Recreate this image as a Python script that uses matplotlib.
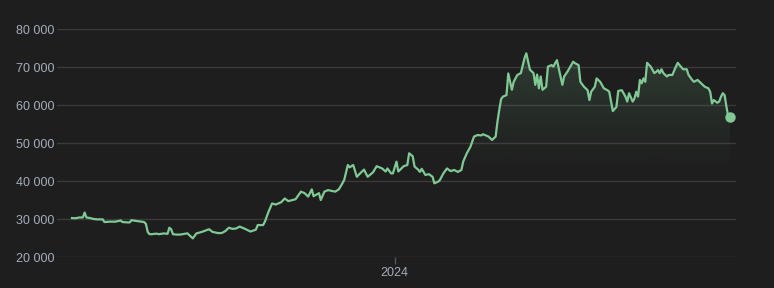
import numpy as np
import pandas as pd
import matplotlib
matplotlib.use("Agg")
import matplotlib.pyplot as plt
import matplotlib.dates as mdates
from matplotlib.patches import Polygon
from matplotlib.colors import to_rgb

# Price series (irregular sampling, USD)
dates = [
    "2023-07-06", "2023-07-08", "2023-07-10", "2023-07-12", "2023-07-13", "2023-07-14",
    "2023-07-16", "2023-07-18", "2023-07-20", "2023-07-23", "2023-07-24", "2023-07-27",
    "2023-07-30", "2023-08-02", "2023-08-03", "2023-08-06", "2023-08-07", "2023-08-08",
    "2023-08-09", "2023-08-12", "2023-08-15", "2023-08-16", "2023-08-17", "2023-08-18",
    "2023-08-19", "2023-08-22", "2023-08-23", "2023-08-26", "2023-08-28", "2023-08-29",
    "2023-08-30", "2023-08-31", "2023-09-02", "2023-09-04", "2023-09-08", "2023-09-11",
    "2023-09-13", "2023-09-16", "2023-09-20", "2023-09-22", "2023-09-25", "2023-09-27",
    "2023-09-29", "2023-10-01", "2023-10-03", "2023-10-05", "2023-10-07", "2023-10-10",
    "2023-10-13", "2023-10-16", "2023-10-17", "2023-10-20", "2023-10-21", "2023-10-23",
    "2023-10-25", "2023-10-27", "2023-10-30", "2023-11-01", "2023-11-03", "2023-11-07",
    "2023-11-10", "2023-11-12", "2023-11-14", "2023-11-16", "2023-11-17", "2023-11-20",
    "2023-11-21", "2023-11-23", "2023-11-25", "2023-11-27", "2023-11-29", "2023-12-01",
    "2023-12-03", "2023-12-04", "2023-12-06", "2023-12-07", "2023-12-09", "2023-12-11",
    "2023-12-13", "2023-12-15", "2023-12-16", "2023-12-17", "2023-12-20", "2023-12-22",
    "2023-12-25", "2023-12-27", "2023-12-28", "2023-12-30", "2023-12-31", "2024-01-02",
    "2024-01-03", "2024-01-06", "2024-01-08", "2024-01-09", "2024-01-11", "2024-01-12",
    "2024-01-14", "2024-01-15", "2024-01-16", "2024-01-18", "2024-01-20", "2024-01-22",
    "2024-01-23", "2024-01-25", "2024-01-26", "2024-01-28", "2024-01-30", "2024-02-01",
    "2024-02-03", "2024-02-05", "2024-02-07", "2024-02-08", "2024-02-10", "2024-02-12",
    "2024-02-14", "2024-02-16", "2024-02-18", "2024-02-19", "2024-02-22", "2024-02-24",
    "2024-02-26", "2024-02-27", "2024-02-28", "2024-02-29", "2024-03-01", "2024-03-03",
    "2024-03-04", "2024-03-06", "2024-03-07", "2024-03-09", "2024-03-11", "2024-03-13",
    "2024-03-14", "2024-03-15", "2024-03-16", "2024-03-18", "2024-03-19", "2024-03-20",
    "2024-03-21", "2024-03-22", "2024-03-23", "2024-03-25", "2024-03-26", "2024-03-28",
    "2024-03-29", "2024-03-30", "2024-03-31", "2024-04-01", "2024-04-03", "2024-04-04",
    "2024-04-06", "2024-04-09", "2024-04-10", "2024-04-12", "2024-04-13", "2024-04-15",
    "2024-04-17", "2024-04-18", "2024-04-19", "2024-04-21", "2024-04-22", "2024-04-24",
    "2024-04-26", "2024-04-28", "2024-04-29", "2024-05-01", "2024-05-03", "2024-05-04",
    "2024-05-06", "2024-05-08", "2024-05-09", "2024-05-10", "2024-05-12", "2024-05-13",
    "2024-05-14", "2024-05-15", "2024-05-16", "2024-05-17", "2024-05-18", "2024-05-19",
    "2024-05-20", "2024-05-22", "2024-05-24", "2024-05-25", "2024-05-26", "2024-05-27",
    "2024-05-28", "2024-05-29", "2024-05-31", "2024-06-01", "2024-06-03", "2024-06-05",
    "2024-06-06", "2024-06-07", "2024-06-09", "2024-06-11", "2024-06-12", "2024-06-14",
    "2024-06-15", "2024-06-17", "2024-06-19", "2024-06-21", "2024-06-23", "2024-06-24",
    "2024-06-25", "2024-06-26", "2024-06-28", "2024-06-29", "2024-06-30", "2024-07-01",
    "2024-07-02", "2024-07-03", "2024-07-04", "2024-07-05",
]
prices = [
    30250, 30200, 30400, 30400, 31700, 30400,
    30250, 30000, 29900, 29900, 29200, 29300,
    29300, 29600, 29200, 29100, 29100, 29700,
    29600, 29400, 29200, 28700, 26600, 26000,
    26000, 26150, 26000, 26200, 26100, 27700,
    27300, 26000, 25900, 25900, 26230, 24900,
    26200, 26600, 27300, 26600, 26300, 26300,
    26800, 27700, 27400, 27500, 28000, 27400,
    26700, 27200, 28400, 28400, 29300, 31900,
    34100, 33800, 34400, 35400, 34700, 35200,
    37200, 36800, 35900, 37800, 36000, 36800,
    35000, 37200, 37600, 37400, 37200, 37800,
    39400, 40300, 44200, 43600, 44200, 41100,
    42100, 43000, 42000, 41100, 42300, 43900,
    43300, 42500, 43300, 42000, 42000, 45100,
    42500, 43900, 44200, 47300, 46500, 43800,
    43000, 42400, 43200, 41600, 41800, 41100,
    39400, 39800, 40200, 42000, 43300, 42600,
    42900, 42400, 42900, 45100, 47300, 49000,
    51700, 52100, 52000, 52300, 51700, 50800,
    51700, 55600, 58700, 61500, 62200, 62600,
    68300, 64000, 66100, 67900, 68400, 72300,
    73600, 71500, 69300, 68400, 65300, 68000,
    64400, 67500, 64000, 64800, 70100, 70500,
    70100, 71000, 71800, 69600, 65300, 67500,
    68900, 71400, 71000, 70500, 66100, 64800,
    63900, 61300, 63500, 64800, 67000, 66100,
    64400, 63900, 63500, 58400, 59500, 63700,
    63900, 62200, 60900, 63100, 60900, 61700,
    63500, 62200, 66600, 65700, 67000, 66100,
    71100, 70100, 68400, 68700, 69200, 68400,
    69400, 68400, 67500, 67900, 67900, 70100,
    71100, 70500, 69400, 69400, 67900, 66600,
    66100, 66600, 65700, 64800, 64400, 63500,
    60400, 61300, 60600, 60900, 62200, 63100,
    62600, 59600, 57000, 56800,
]
y_ticks = [20000, 30000, 40000, 50000, 60000, 70000, 80000]
x_tick_dates = ["2024-01-01"]
x_tick_labels = ["2024"]

bg = "#1e1e1e"
grid_color = "#3a3a3a"
text_color = "#a3adba"
line_color = "#80c995"

plt.rcParams["font.family"] = ["Liberation Sans", "DejaVu Sans"]

x = mdates.date2num(pd.to_datetime(dates))
y = np.array(prices, dtype=float)

fig = plt.figure(figsize=(7.74, 2.88), dpi=100, facecolor=bg)
ax = fig.add_axes([57 / 774, 31 / 288, 679 / 774, 228 / 288], facecolor=bg)

# gradient fill under the line, clipped to the area polygon
y_low = y_ticks[0]
verts = [(x[0], y_low)] + list(zip(x, y)) + [(x[-1], y_low)]
poly = Polygon(verts, closed=True, facecolor="none", edgecolor="none")
ax.add_patch(poly)
n = 256
rgba = np.zeros((n, 1, 4))
rgba[..., :3] = to_rgb(line_color)
rgba[..., 3] = np.linspace(0.17, 0.0, n).reshape(-1, 1)
im = ax.imshow(rgba, extent=[x[0], x[-1], 43000, 74000], aspect="auto",
               origin="upper", zorder=1, interpolation="bilinear")
im.set_clip_path(poly)

ax.plot(x, y, color=line_color, lw=1.6, zorder=3, solid_joinstyle="round")
ax.plot(x[-1], y[-1], "o", color=line_color, ms=6.5, zorder=4)

span = x[-1] - x[0]
ax.set_xlim(x[0] - span * 0.0228, x[-1] + span * 0.0091)
ax.set_ylim(y_ticks[0], y_ticks[-1])

ax.set_yticks(y_ticks)
ax.set_yticklabels([f"{v:,}".replace(",", " ") for v in y_ticks])
ax.set_xticks(mdates.date2num(pd.to_datetime(x_tick_dates)))
ax.set_xticklabels(x_tick_labels)

ax.grid(axis="y", color=grid_color, lw=1.0)
ax.set_axisbelow(True)
for s in ax.spines.values():
    s.set_visible(False)
ax.tick_params(axis="y", length=0, pad=2, labelsize=9, labelcolor=text_color)
ax.tick_params(axis="x", length=5, width=1, color="#555555", pad=2,
               labelsize=9, labelcolor=text_color)

fig.savefig("out.png", dpi=100, facecolor=bg)
